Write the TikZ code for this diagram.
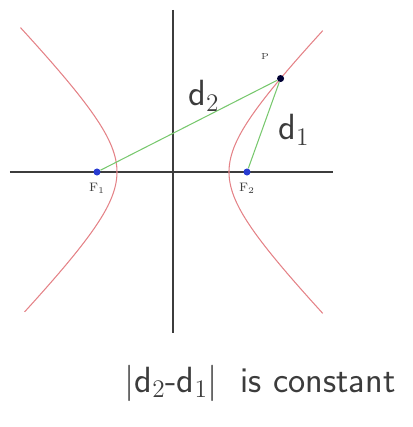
\documentclass[tikz,border=0pt]{standalone}
\usetikzlibrary{positioning}
\definecolor{curvered}{RGB}{228,130,135}
\definecolor{seggreen}{RGB}{120,200,110}
\definecolor{focusblue}{RGB}{40,60,210}
\definecolor{axisgray}{RGB}{60,60,60}

\begin{document}
\begin{tikzpicture}[
  axis/.style  = {draw=axisgray, line width=0.8pt},
  branch/.style = {draw=curvered, line width=0.6pt, smooth},
  seg/.style   = {draw=seggreen, line width=0.6pt},
  focus/.style = {circle, fill=#1, inner sep=0pt, minimum size=4pt},
  tag/.style   = {font=#1, text=axisgray},
  hand/.style  = {font=\sffamily#1, text=axisgray},
]
\useasboundingbox (-3.46,-5.10) rectangle (4.80,3.44);

% axes
\coordinate (xl) at (-3.26,0);
\coordinate (xr) at (3.20,0);
\coordinate (yt) at (0,3.24);
\coordinate (yb) at (0,-3.22);
\draw[axis] (xl) -- (xr);
\draw[axis] (yt) -- (yb);

% the two branches
\draw[branch] plot[domain=-1.63:1.66, samples=60, variable=\t]
  ({-1.12*cosh(\t)},{1.14*sinh(\t)});
\draw[branch] plot[domain=-1.64:1.64, samples=60, variable=\t]
  ({1.12*cosh(\t)},{1.14*sinh(\t)});

\node[focus=focusblue] (F1) at (-1.52,0) {};
\node[focus=focusblue] (F2) at (1.48,0) {};
\node[focus=black!80!blue] (P) at ({1.12*cosh(1.27)},{1.14*sinh(1.27)}) {};

\draw[seg] (F1) -- (P);
\draw[seg] (F2) -- (P);

\node[tag=\scriptsize, below=0.02cm of F1] (f1lbl) {F$_1$};
\node[tag=\scriptsize, below=0.02cm of F2] (f2lbl) {F$_2$};
\node[tag=\tiny, above left=0.2cm and 0.05cm of P] (plbl) {P};

\node[hand=\huge] (d2) at (0.62,1.52) {d$_2$};
\node[hand=\huge] (d1) at (2.42,0.84) {d$_1$};

\node[hand=\huge] (rule) at (1.74,-4.22) {$|$d$_2$-d$_1|$\ \ is constant};
\end{tikzpicture}
\end{document}
